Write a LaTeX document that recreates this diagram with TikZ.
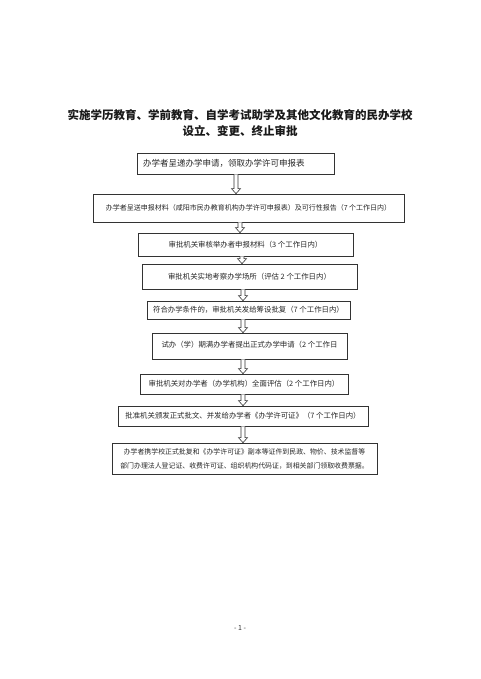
\documentclass[tikz,border=0pt]{standalone}
\usepackage{fontspec}
\setmainfont{Noto Sans CJK SC}
\usetikzlibrary{calc}

% hollow down arrow between two boxes, at horizontal position #1
\newcommand{\hollowarrow}[3]{%
  \draw[harr] let \p1=(#2.south), \p2=(#3.north) in
    (#1pt-2pt,\y1) -- (#1pt-2pt,\y2+5pt) -- (#1pt-4.5pt,\y2+5pt) -- (#1pt,\y2)
    -- (#1pt+4.5pt,\y2+5pt) -- (#1pt+2pt,\y2+5pt) -- (#1pt+2pt,\y1);}

\begin{document}
\begin{tikzpicture}[
        x=1pt, y=-1pt,
        box/.style={draw=black!80, line width=0.7pt, inner sep=0pt, align=center,
        font=\fontsize{7.4}{14}\selectfont, text=black!85},
        harr/.style={draw=black!80, fill=white, line width=0.6pt, line join=miter},
        ttl/.style={font=\fontsize{11.5}{16}\selectfont\bfseries, text=black!90}
      ]
      \useasboundingbox (0,0) rectangle (480,679);

      % Title
      \node[ttl] (t1) at (240,115) {实施学历教育、学前教育、自学考试助学及其他文化教育的民办学校};
      \node[ttl] (t2) at (240,131) {设立、变更、终止审批};

      % Nodes
      \node[box, minimum width=197pt, minimum height=21pt, text width=185pt, align=left,
        font=\fontsize{8.5}{12}\selectfont] (b1) at (235.5,163.5)
      {办学者呈递办学申请，领取办学许可申报表};
      \node[box, minimum width=311pt, minimum height=28pt, font=\fontsize{7}{12}\selectfont] (b2) at (248.5,208)
      {办学者呈送申报材料（咸阳市民办教育机构办学许可申报表）及可行性报告（7 个工作日内）};
      \node[box, minimum width=215pt, minimum height=23pt] (b3) at (245.5,244.5)
      {审批机关审核举办者申报材料（3 个工作日内）};
      \node[box, minimum width=215pt, minimum height=25pt] (b4) at (249.5,276.5)
      {审批机关实地考察办学场所（评估 2 个工作日内）};
      \node[box, minimum width=203pt, minimum height=18pt] (b5) at (248.5,310)
      {符合办学条件的，审批机关发给筹设批复（7 个工作日内）};
      \node[box, minimum width=195pt, minimum height=26pt] (b6) at (249.5,346)
      {\raisebox{3pt}{试办（学）期满办学者提出正式办学申请（2 个工作日}};
      \node[box, minimum width=208pt, minimum height=20pt] (b7) at (244,384)
      {审批机关对办学者（办学机构）全面评估（2 个工作日内）};
      \node[box, minimum width=250pt, minimum height=20pt] (b8) at (243,416)
      {批准机关颁发正式批文、并发给办学者《办学许可证》（7 个工作日内）};
      \node[box, minimum width=265pt, minimum height=31pt, font=\fontsize{6.9}{14}\selectfont] (b9) at (244.5,458.5)
      {办学者携学校正式批复和《办学许可证》副本等证件到民政、物价、技术监督等\\
       部门办理法人登记证、收费许可证、组织机构代码证，到相关部门领取收费票据。};

      % Arrows
      \hollowarrow{236}{b1}{b2}
      \hollowarrow{240}{b2}{b3}
      \hollowarrow{242}{b3}{b4}
      \hollowarrow{243}{b4}{b5}
      \hollowarrow{243}{b5}{b6}
      \hollowarrow{243}{b6}{b7}
      \hollowarrow{243}{b7}{b8}
      \hollowarrow{243}{b8}{b9}

      % Page number
      \node[font=\fontsize{7}{9}\selectfont, text=black!80] (pg) at (240,628) {- 1 -};
    \end{tikzpicture}
\end{document}
